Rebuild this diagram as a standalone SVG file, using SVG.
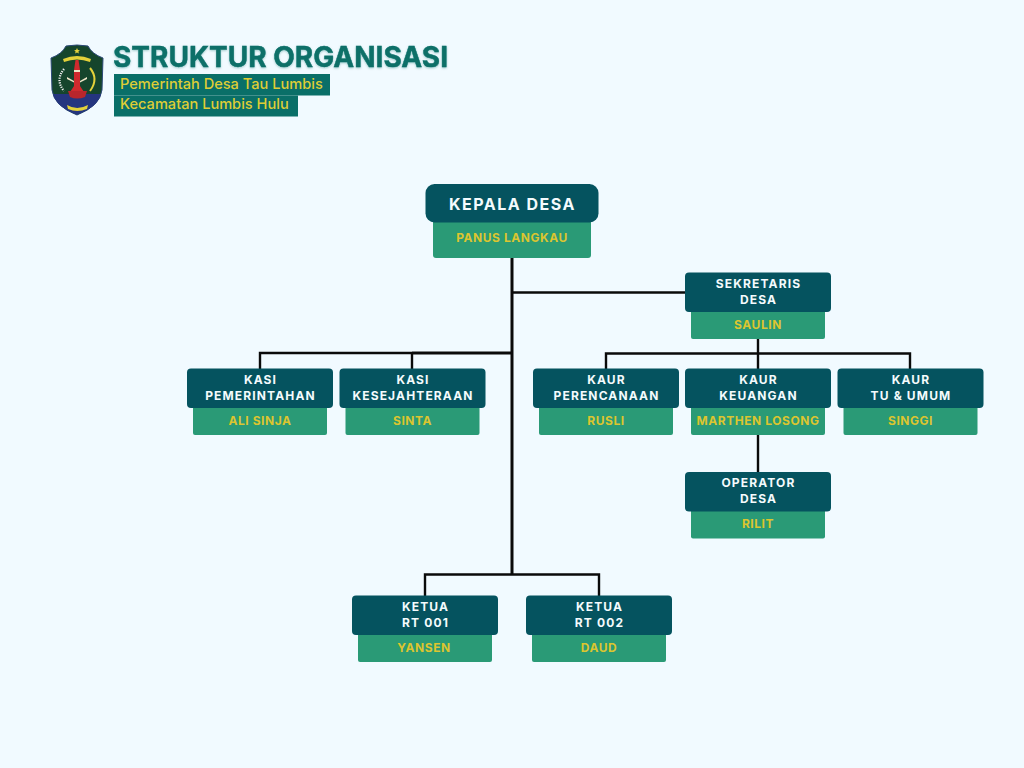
<svg xmlns="http://www.w3.org/2000/svg" width="1024" height="768" viewBox="0 0 1024 768">
<style>
.bg{fill:#f1faff}
.head{fill:#05535f}
.sub{fill:#2a9a76}
.t{font-family:Inter,"Liberation Sans",sans-serif;font-weight:700;text-anchor:middle}
.h{fill:#f4fbfd;font-size:12px;letter-spacing:1.15px}
.n{fill:#dcc52f;font-size:12px;letter-spacing:.55px}
.c{fill:none;stroke:#0a0a0a;stroke-width:2.4}
.trunk{fill:none;stroke:#0a0a0a;stroke-width:3}
.title{font-family:Inter,"Liberation Sans",sans-serif;font-weight:700;font-size:28px;fill:#0a6f68;stroke:#0a6f68;stroke-width:.4}
.st{font-family:Inter,"Liberation Sans",sans-serif;font-weight:500;font-size:14.6px;fill:#dfcd35}
</style>
<defs>
<filter id="soft" x="-5%" y="-30%" width="110%" height="160%"><feDropShadow dx="0" dy="1" stdDeviation="1.2" flood-color="#0a6f68" flood-opacity=".35"/></filter>
</defs>
<rect class="bg" width="1024" height="768"/>

<g id="logo">
<path d="M51 58 Q62 54 66 46 Q77 44 88 46 Q92 54 103 58 L102 90 Q100 106 77 115 Q54 106 52 90 Z" fill="#15452c" stroke="#2d4a78" stroke-width="1"/>
<path d="M53 94 H101 Q98 107 77 114.500 Q56 107 53 94 Z" fill="#25357f"/>
<path d="M63 59 Q77 53 91 59 L90 62 Q77 57 64 62 Z" fill="#e3d13a"/>
<path d="M77 48 l.9 2 2 .2 -1.500 1.300 .5 2 -1.900 -1.100 -1.900 1.100 .5 -2 -1.500 -1.300 2 -.2 Z" fill="#e3d13a"/>
<path d="M75.500 60 H78.500 L80 70 V86 L84 92 H70 L74 86 V70 Z" fill="#cf2a2e"/>
<path d="M74 70 H80 V72 H74 Z M67 77 L74 81 V82.500 L67 79 Z M87 77 L80 81 V82.500 L87 79 Z" fill="#efe6c8"/>
<path d="M64 69 Q55 80 64 91" fill="none" stroke="#f2f2f2" stroke-width="2.200" stroke-dasharray="1.200 1.200"/>
<path d="M90 68 Q99 79 90 91" fill="none" stroke="#e3d13a" stroke-width="2"/>
<path d="M67 105 Q77 111 88 105 L87 109 Q77 113 68 109 Z" fill="#e3d13a"/>
<path d="M68 91 H87 L85 97 Q77 100 70 97 Z" fill="#b8262c"/>
</g>

<g id="title">
<text class="title" x="113" y="67" filter="url(#soft)">STRUKTUR ORGANISASI</text>
<rect x="114" y="74" width="216" height="21.500" fill="#0a6f68"/>
<rect x="114" y="95.500" width="184" height="21" fill="#0a6f68"/>
<text class="st" x="120" y="89">Pemerintah Desa Tau Lumbis</text>
<text class="st" x="120" y="109">Kecamatan Lumbis Hulu</text>
</g>

<g id="connectors">
<path class="trunk" d="M512 258V575M412 353H512"/>
<path class="c" d="M512 292.500H686"/>
<path class="c" d="M412 353H260V369M412 353V369"/>
<path class="c" d="M606 369V353.500H910V369M758 339V369"/>
<path class="c" d="M758 435V473"/>
<path class="c" d="M425 596V574.500H599V596"/>
</g>

<g id="kepala-desa">
<rect class="sub" x="433" y="215" width="158" height="43" rx="3"/>
<rect class="head" x="425.500" y="184" width="173" height="38.500" rx="9"/>
<text class="t" x="512.500" y="210" fill="#f4fbfd" font-size="16" letter-spacing="1.5">KEPALA DESA</text>
<text class="t n" x="512" y="242">PANUS LANGKAU</text>
</g>

<g id="sekretaris-desa">
<rect class="sub" x="691" y="305" width="134" height="34" rx="2"/>
<rect class="head" x="685" y="272.500" width="146" height="39.500" rx="4"/>
<text class="t h" x="758.500" y="288">SEKRETARIS</text>
<text class="t h" x="758.500" y="304">DESA</text>
<text class="t n" x="758" y="329">SAULIN</text>
</g>

<g id="kasi-pemerintahan">
<rect class="sub" x="193" y="401" width="134" height="34" rx="2"/>
<rect class="head" x="187" y="368.500" width="146" height="39.500" rx="4"/>
<text class="t h" x="260.500" y="384">KASI</text>
<text class="t h" x="260.500" y="400">PEMERINTAHAN</text>
<text class="t n" x="260" y="425">ALI SINJA</text>
</g>

<g id="kasi-kesejahteraan">
<rect class="sub" x="345.500" y="401" width="134" height="34" rx="2"/>
<rect class="head" x="339.500" y="368.500" width="146" height="39.500" rx="4"/>
<text class="t h" x="413" y="384">KASI</text>
<text class="t h" x="413" y="400">KESEJAHTERAAN</text>
<text class="t n" x="412.500" y="425">SINTA</text>
</g>

<g id="kaur-perencanaan">
<rect class="sub" x="539" y="401" width="134" height="34" rx="2"/>
<rect class="head" x="533" y="368.500" width="146" height="39.500" rx="4"/>
<text class="t h" x="606.500" y="384">KAUR</text>
<text class="t h" x="606.500" y="400">PERENCANAAN</text>
<text class="t n" x="606" y="425">RUSLI</text>
</g>

<g id="kaur-keuangan">
<rect class="sub" x="691" y="401" width="134" height="34" rx="2"/>
<rect class="head" x="685" y="368.500" width="146" height="39.500" rx="4"/>
<text class="t h" x="758.500" y="384">KAUR</text>
<text class="t h" x="758.500" y="400">KEUANGAN</text>
<text class="t n" x="758" y="425">MARTHEN LOSONG</text>
</g>

<g id="kaur-tu-umum">
<rect class="sub" x="843.500" y="401" width="134" height="34" rx="2"/>
<rect class="head" x="837.500" y="368.500" width="146" height="39.500" rx="4"/>
<text class="t h" x="911" y="384">KAUR</text>
<text class="t h" x="911" y="400">TU &amp; UMUM</text>
<text class="t n" x="910.500" y="425">SINGGI</text>
</g>

<g id="operator-desa">
<rect class="sub" x="691" y="504" width="134" height="34.500" rx="2"/>
<rect class="head" x="685" y="472" width="146" height="39.500" rx="4"/>
<text class="t h" x="758.500" y="487">OPERATOR</text>
<text class="t h" x="758.500" y="503">DESA</text>
<text class="t n" x="758" y="528">RILIT</text>
</g>

<g id="ketua-rt-001">
<rect class="sub" x="358" y="628" width="134" height="34" rx="2"/>
<rect class="head" x="352" y="595.500" width="146" height="39.500" rx="4"/>
<text class="t h" x="425.500" y="611">KETUA</text>
<text class="t h" x="425.500" y="627">RT 001</text>
<text class="t n" x="424" y="652">YANSEN</text>
</g>

<g id="ketua-rt-002">
<rect class="sub" x="532" y="628" width="134" height="34" rx="2"/>
<rect class="head" x="526" y="595.500" width="146" height="39.500" rx="4"/>
<text class="t h" x="599.500" y="611">KETUA</text>
<text class="t h" x="599.500" y="627">RT 002</text>
<text class="t n" x="599" y="652">DAUD</text>
</g>
</svg>
